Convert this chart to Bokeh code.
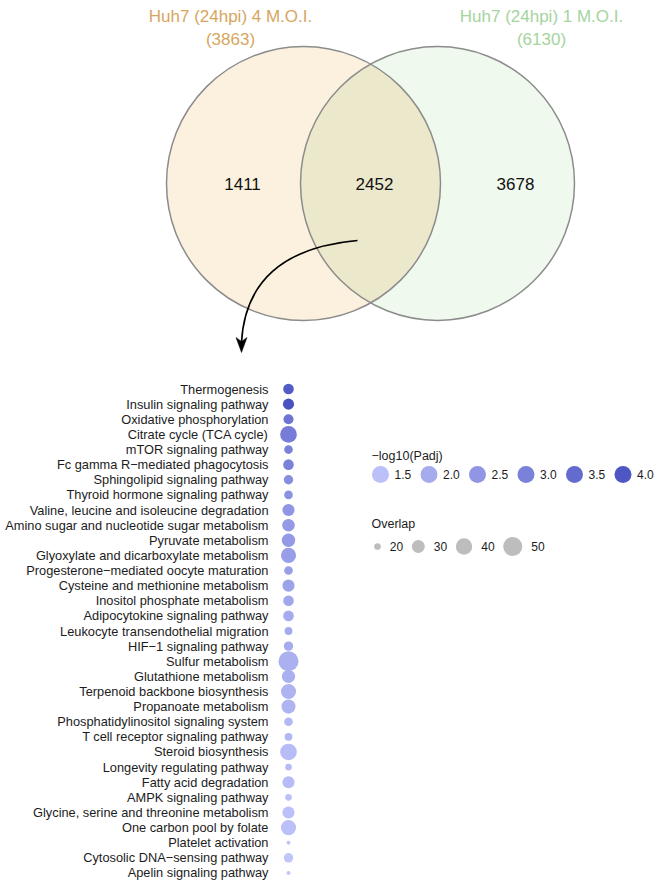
import numpy as np
from bokeh.plotting import figure
from bokeh.layouts import column, row
from bokeh.models import Range1d, FactorRange, ColumnDataSource
from bokeh.core.properties import value
from bokeh.embed import file_html
from bokeh.resources import INLINE

# ---------------- data ----------------
set_names = ["Huh7 (24hpi) 4 M.O.I.", "Huh7 (24hpi) 1 M.O.I."]
set_totals = [3863, 6130]
region_counts = [1411, 2452, 3678]   # only left, shared, only right

pathways = [
    "Thermogenesis",
    "Insulin signaling pathway",
    "Oxidative phosphorylation",
    "Citrate cycle (TCA cycle)",
    "mTOR signaling pathway",
    "Fc gamma R\u2212mediated phagocytosis",
    "Sphingolipid signaling pathway",
    "Thyroid hormone signaling pathway",
    "Valine, leucine and isoleucine degradation",
    "Amino sugar and nucleotide sugar metabolism",
    "Pyruvate metabolism",
    "Glyoxylate and dicarboxylate metabolism",
    "Progesterone\u2212mediated oocyte maturation",
    "Cysteine and methionine metabolism",
    "Inositol phosphate metabolism",
    "Adipocytokine signaling pathway",
    "Leukocyte transendothelial migration",
    "HIF\u22121 signaling pathway",
    "Sulfur metabolism",
    "Glutathione metabolism",
    "Terpenoid backbone biosynthesis",
    "Propanoate metabolism",
    "Phosphatidylinositol signaling system",
    "T cell receptor signaling pathway",
    "Steroid biosynthesis",
    "Longevity regulating pathway",
    "Fatty acid degradation",
    "AMPK signaling pathway",
    "Glycine, serine and threonine metabolism",
    "One carbon pool by folate",
    "Platelet activation",
    "Cytosolic DNA\u2212sensing pathway",
    "Apelin signaling pathway",
]
neglog_padj = [3.9, 4.1, 3.3, 3.1, 3.0, 3.0, 2.7, 2.6, 2.5, 2.4, 2.4, 2.3, 2.3,
               2.2, 2.1, 2.0, 2.0, 2.0, 1.9, 1.9, 1.8, 1.8, 1.7, 1.7, 1.6, 1.6,
               1.6, 1.5, 1.5, 1.5, 1.4, 1.4, 1.4]
overlap = [25, 26, 24, 41, 22, 25, 23, 22, 28, 29, 31, 36, 22, 28, 25, 25, 21,
           23, 54, 31, 36, 33, 22, 21, 41, 20, 28, 20, 28, 36, 19, 23, 19]

padj_legend = [1.5, 2.0, 2.5, 3.0, 3.5, 4.0]
overlap_legend = [20, 30, 40, 50]

# ---------------- styles / scales ----------------
FONT = "Liberation Sans"
LEFT_TXT = "#D6A660"
RIGHT_TXT = "#A5D49E"
LOW_RGB = np.array([196, 201, 252])
HIGH_RGB = np.array([74, 82, 194])
C_MIN, C_MAX = 1.3, 4.1
S_MIN, S_MAX = min(overlap), max(overlap)


def pcolor(v):
    t = np.clip((v - C_MIN) / (C_MAX - C_MIN), 0, 1)
    c = LOW_RGB + (HIGH_RGB - LOW_RGB) * t
    return "#%02x%02x%02x" % tuple(int(round(x)) for x in c)


def psize(v):
    t = np.clip((v - S_MIN) / (S_MAX - S_MIN), 0, 1)
    return 4.0 + 16.0 * np.sqrt(t)


W = 656
VH = 381
DH = 880 - VH
DW = 301

# ---------------- Venn ----------------
venn = figure(width=W, height=VH, x_range=Range1d(0, W), y_range=Range1d(VH, 0),
              x_axis_type=None, y_axis_type=None, output_backend="svg",
              toolbar_location=None, min_border=0)
venn.grid.visible = False
venn.outline_line_color = None

cx = [303.0, 437.0]
cy = 183.0
r = 137.0
venn.circle(x=[cx[0]], y=[cy], radius=r, fill_color="#FBF1DE", line_color=None)
venn.circle(x=[cx[1]], y=[cy], radius=r, fill_color="#EFF9ED", line_color=None)
d = cx[1] - cx[0]
a = np.arccos(d / 2 / r)
t1 = np.linspace(-a, a, 80)
t2 = np.linspace(np.pi - a, np.pi + a, 80)
lx = np.concatenate([cx[0] + r * np.cos(t1), cx[1] + r * np.cos(t2)])
ly = np.concatenate([cy + r * np.sin(t1), cy + r * np.sin(t2)])
venn.patch(lx, ly, fill_color="#ECE8CC", line_color=None)
venn.circle(x=cx, y=[cy, cy], radius=r, fill_color=None, line_color="#8c8c8c", line_width=1.5)

title_x = [230, 541]
for i, col in enumerate([LEFT_TXT, RIGHT_TXT]):
    venn.text(x=[title_x[i], title_x[i]], y=[16, 39],
              text=[set_names[i], "(%d)" % set_totals[i]],
              text_align="center", text_baseline="middle",
              text_font=value(FONT), text_font_size="17px", text_color=col)

venn.text(x=[242, 374, 515], y=[cy, cy, cy], text=[str(v) for v in region_counts],
          text_align="center", text_baseline="middle",
          text_font=value(FONT), text_font_size="17px", text_color="#111111")

# curved arrow
venn.quadratic(x0=[357], y0=[240], x1=[241], y1=[342], cx=[246], cy=[250],
               line_color="black", line_width=1.6)
venn.patch([241, 235.5, 241, 246.5], [352, 337, 341, 337],
           fill_color="black", line_color="black", line_width=0.5)

# ---------------- dot plot ----------------
rows_rev = list(reversed(pathways))
src = ColumnDataSource(dict(
    x=["shared"] * len(pathways),
    y=pathways,
    size=[psize(v) for v in overlap],
    color=[pcolor(v) for v in neglog_padj],
))
dot = figure(width=DW, height=DH,
             x_range=FactorRange(factors=["shared"], range_padding=0),
             y_range=FactorRange(factors=rows_rev, range_padding=0, factor_padding=0),
             x_axis_location=None, output_backend="svg", toolbar_location=None,
             min_border_left=275, min_border_right=0, min_border_top=0, min_border_bottom=0)
dot.scatter(x="x", y="y", size="size", fill_color="color", line_color=None, source=src)
dot.grid.grid_line_color = None
dot.outline_line_color = None
ya = dot.yaxis[0]
ya.axis_line_color = None
ya.major_tick_line_color = None
ya.minor_tick_line_color = None
ya.major_tick_out = 0
ya.major_label_standoff = 7
ya.major_label_text_font = FONT
ya.major_label_text_font_size = "12.8px"
ya.major_label_text_color = "#1c1c1c"

# ---------------- legends ----------------
LW = W - DW
leg = figure(width=LW, height=DH, x_range=Range1d(0, LW), y_range=Range1d(DH, 0),
             x_axis_type=None, y_axis_type=None, output_backend="svg",
             toolbar_location=None, min_border=0)
leg.grid.visible = False
leg.outline_line_color = None

leg.text(x=[70, 70], y=[74, 142], text=["\u2212log10(Padj)", "Overlap"],
         text_align="left", text_baseline="middle",
         text_font=value(FONT), text_font_size="12.5px", text_color="#1c1c1c")

px = [79 + 48.5 * i for i in range(len(padj_legend))]
leg.scatter(x=px, y=[93] * len(px), size=17, fill_color=[pcolor(v) for v in padj_legend],
            line_color=None)
leg.text(x=[x + 14 for x in px], y=[93] * len(px), text=["%.1f" % v for v in padj_legend],
         text_align="left", text_baseline="middle",
         text_font=value(FONT), text_font_size="12px", text_color="#1c1c1c")

osz = [psize(v) for v in overlap_legend]
ox = [76.0]
for i in range(1, len(osz)):
    ox.append(ox[-1] + osz[i - 1] / 2 + 31 + osz[i] / 2)
leg.scatter(x=ox, y=[165] * len(ox), size=osz, fill_color="#BDBDBD", line_color=None)
leg.text(x=[x + s / 2 + 9 for x, s in zip(ox, osz)], y=[165] * len(ox),
         text=[str(v) for v in overlap_legend],
         text_align="left", text_baseline="middle",
         text_font=value(FONT), text_font_size="12px", text_color="#1c1c1c")

layout = column(venn, row(dot, leg, spacing=0), spacing=0)
open("out.html", "w").write(file_html(layout, INLINE))
